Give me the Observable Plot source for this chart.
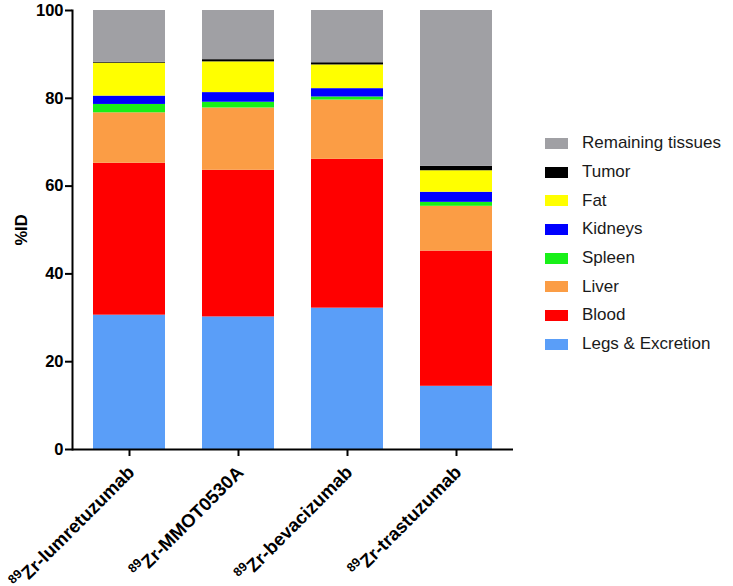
<!DOCTYPE html>
<html><head><meta charset="utf-8">
<script src="https://cdn.jsdelivr.net/npm/d3@7"></script>
<script src="https://cdn.jsdelivr.net/npm/@observablehq/plot@0.6"></script>
<style>
body{margin:0;background:#fff;font-family:"Liberation Sans",Arial,sans-serif;}
#wrap{position:relative;width:733px;height:586px;}
#legend{position:absolute;left:545px;top:129px;}
.item{display:flex;align-items:center;height:28.7px;font-size:17px;color:#1a1a1a;white-space:nowrap;}
.sw{width:23px;height:11px;margin-right:14px;flex:none;}
</style></head><body><div id="wrap"><div id="legend"></div></div>
<script>
const agents = ["lumretuzumab","MMOT0530A","bevacizumab","trastuzumab"];
const isotope = "89";
const element = "Zr-";
const tissues = ["Legs & Excretion","Blood","Liver","Spleen","Kidneys","Fat","Tumor","Remaining tissues"];
const colors = ["#5a9ef8","#ff0000","#fb9d45","#18f018","#0000ff","#ffff00","#000000","#a0a0a4"];
const legs = [30.6,30.2,32.2,14.4];
const blood = [34.6,33.4,33.9,30.8];
const liver = [11.5,14.2,13.5,10.2];
const spleen = [1.9,1.3,0.7,0.9];
const kidneys = [1.9,2.2,1.9,2.3];
const fat = [7.5,7.0,5.4,4.9];
const tumor = [0.2,0.5,0.5,1.0];
const remaining = [11.8,11.2,11.9,35.5];
const yTicks = [0,20,40,60,80,100];

const series = [legs, blood, liver, spleen, kidneys, fat, tumor, remaining];
const data = [];
agents.forEach((a, i) => tissues.forEach((t, j) => data.push({agent: a, tissue: t, value: series[j][i]})));

const plot = Plot.plot({
  width: 733, height: 586,
  marginLeft: 72, marginRight: 220, marginTop: 10, marginBottom: 137,
  style: {fontFamily: '"Liberation Sans", Arial, sans-serif', fontSize: "16px", color: "#000", background: "transparent"},
  x: {domain: agents, paddingInner: 0.34, paddingOuter: 0.19, label: null},
  y: {domain: [0, 100]},
  color: {domain: tissues, range: colors},
  marks: [
    Plot.barY(data, {x: "agent", y: "value", fill: "tissue", order: tissues}),
    Plot.ruleY([0], {strokeWidth: 2}),
    Plot.frame({anchor: "left", strokeWidth: 2}),
    Plot.axisY({ticks: yTicks, tickSize: 7, tickPadding: 2, strokeWidth: 2, label: "%ID", labelAnchor: "center", labelOffset: 57, labelArrow: "none", fontWeight: "bold", fontSize: 16.5}),
    Plot.axisX({tickRotate: -45, tickSize: 7, tickPadding: 11, strokeWidth: 2, label: null, fontWeight: "bold", fontSize: 18.5})
  ]
});
document.getElementById("wrap").prepend(plot);

// superscript isotope labels
d3.select(plot).selectAll('g[aria-label="x-axis tick label"] text').each(function() {
  const name = this.textContent;
  const t = d3.select(this);
  t.text(null);
  t.append("tspan").attr("font-size", 12.5).attr("dy", "-0.45em").text(isotope);
  t.append("tspan").attr("dy", "0.45em").text(element + name);
});

const legend = d3.select("#legend");
tissues.slice().reverse().forEach(t => {
  const row = legend.append("div").attr("class", "item");
  row.append("div").attr("class", "sw").style("background", colors[tissues.indexOf(t)]);
  row.append("span").text(t);
});
</script></body></html>
